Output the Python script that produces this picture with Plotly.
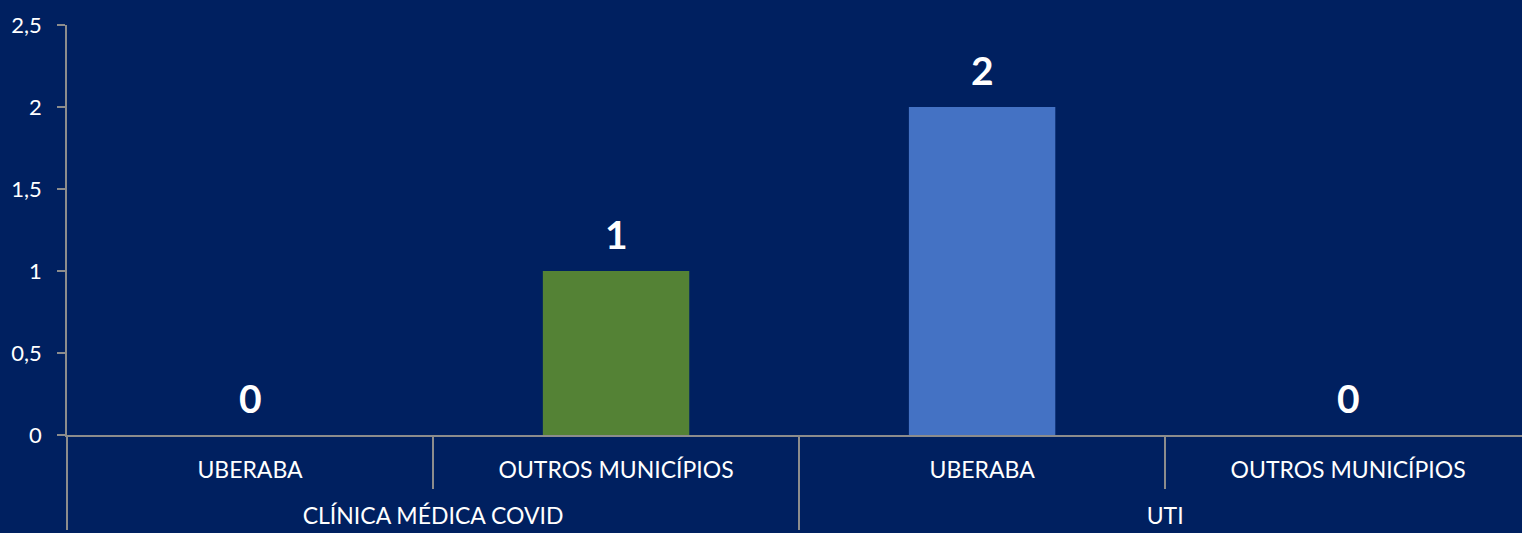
import plotly.graph_objects as go

groups = ["CLÍNICA MÉDICA COVID", "CLÍNICA MÉDICA COVID", "UTI", "UTI"]
origins = ["UBERABA", "OUTROS MUNICÍPIOS", "UBERABA", "OUTROS MUNICÍPIOS"]
values = [0, 1, 2, 0]
bar_colors = ["#548235", "#548235", "#4472C4", "#4472C4"]
y_ticks = [0, 0.5, 1, 1.5, 2, 2.5]

BG = "#002060"
AXIS = "#8c8c8c"
FONT = "Lato"

# outer-level labels get a leading blank line so they sit lower, as in the reference
outer = ["<br>" + g for g in groups]

fig = go.Figure()
fig.add_trace(go.Bar(
    x=[outer, origins],
    y=values,
    marker=dict(color=bar_colors, line=dict(width=0)),
    width=0.4,
    hoverinfo="skip",
))

for i, v in enumerate(values):
    fig.add_annotation(
        x=i, y=v, xref="x", yref="y",
        text=f"<b>{v}</b>", showarrow=False,
        yanchor="bottom", yshift=12,
        font=dict(family=FONT, size=39, color="white"),
    )

fig.update_layout(
    width=1522, height=533,
    margin=dict(l=67, r=0, t=25, b=98),
    paper_bgcolor=BG, plot_bgcolor=BG,
    separators=",.",
    showlegend=False,
    font=dict(family=FONT, color="white"),
    bargap=0.6,
)
fig.update_xaxes(
    type="multicategory",
    range=[-0.5, 3.475],
    showline=True, linecolor=AXIS, linewidth=1.5,
    showgrid=False, zeroline=False,
    ticks="outside", tickson="boundaries", ticklen=52, tickcolor=AXIS, tickwidth=1.5,
    showdividers=True, dividercolor=AXIS, dividerwidth=1.5,
    tickfont=dict(family=FONT, size=23, color="white"),
    ticklabelstandoff=14,
)
fig.update_yaxes(
    range=[0, 2.5],
    tickvals=y_ticks,
    showline=True, linecolor=AXIS, linewidth=1.5,
    showgrid=False, zeroline=False,
    ticks="outside", ticklen=8, tickcolor=AXIS, tickwidth=1.5,
    tickfont=dict(family=FONT, size=22, color="white"),
    ticklabelstandoff=11,
)

fig.write_html("out.html")
